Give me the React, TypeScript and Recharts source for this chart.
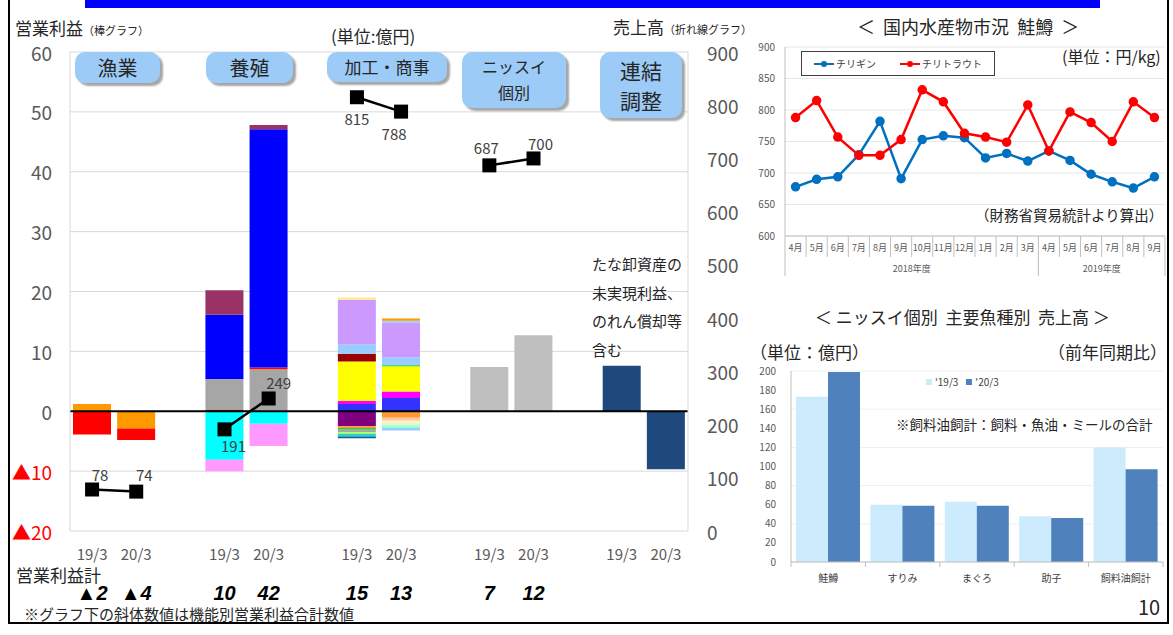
import React from 'react'
import {
  Bar,
  BarChart,
  CartesianGrid,
  Cell,
  ComposedChart,
  Line,
  LineChart,
  ReferenceLine,
  XAxis,
  YAxis,
} from 'recharts'

const FONT = "'Noto Sans CJK JP', 'Noto Sans', sans-serif"
const NARROW = "'Liberation Sans Narrow', 'Liberation Sans', sans-serif"
const AXIS_GREY = '#595959'
const GRID = '#D9D9D9'

// ---- 営業利益 (stacked bars) + 売上高 (line) ----
// 14 slots: two bars per segment, an empty slot between segments
const periods = ['19/3', '20/3', '', '19/3', '20/3', '', '19/3', '20/3', '', '19/3', '20/3', '', '19/3', '20/3']
const totals = ['▲2', '▲4', '', '10', '42', '', '15', '13', '', '7', '12', '', '', '']
const sales = [78, 74, null, 191, 249, null, 815, 788, null, 687, 700, null, null, null]

// pieces of each bar, from the zero line outwards (+ goes up, - goes down)
const segments: number[][] = [
  [1.2, -3.9],
  [-2.9, -1.9],
  [],
  [0.2, 5.2, 10.7, 4.1, -8.1, -1.9],
  [7.0, 0.3, 39.8, 0.7, -2.1, -3.7],
  [],
  [1.2, 0.5, 6.6, 1.3, 1.6, 7.4, 0.4, -2.5, -0.3, -0.3, -0.4, -0.3, -0.4, -0.3],
  [2.2, 1.1, 4.2, 0.2, 1.3, 5.8, 0.3, 0.4, -1.1, -0.5, -0.4, -0.4, -0.4, -0.4],
  [],
  [7.4],
  [12.7],
  [],
  [7.6],
  [-9.7],
]
const segmentColors: string[][] = [
  ['#FF9900', '#FF0000'],
  ['#FF9900', '#FF0000'],
  [],
  ['#C00000', '#A6A6A6', '#0000FF', '#993366', '#00FFFF', '#FF99FF'],
  ['#A6A6A6', '#FF0000', '#0000FF', '#993366', '#00FFFF', '#FF99FF'],
  [],
  ['#3333FF', '#FF00FF', '#FFFF00', '#990000', '#99CCFF', '#CC99FF', '#FFE699', '#800080', '#FF9933', '#33CC33', '#A6A6A6', '#99FF66', '#33CCCC', '#006699'],
  ['#3333FF', '#FF00FF', '#FFFF00', '#00CC00', '#99CCFF', '#CC99FF', '#99CCFF', '#FF9900', '#FF9933', '#FFCC99', '#FFF2CC', '#CCFFCC', '#99FFCC', '#99CCFF'],
  [],
  ['#BFBFBF'],
  ['#BFBFBF'],
  [],
  ['#1F497D'],
  ['#1F497D'],
]
const salesLabelOffsets: ([number, number] | null)[] = [
  [8, -15], [8, -17], null, [9, 16], [10, -16], null, [0, 21], [-7, 22], null, [-3, -18], [7, -15],
]

const segmentNames = ['漁業', '養殖', '加工・商事', 'ニッスイ\n個別', '連結\n調整']

const LAYERS = Math.max(...segments.map((s) => s.length))
const mainData = periods.map((p, i) => {
  const row: Record<string, any> = { slot: `s${i}`, period: p, sales: sales[i] }
  for (let j = 0; j < LAYERS; j++) row[`L${j}`] = segments[i][j] ?? null
  return row
})

// ---- 国内水産物市況 鮭鱒 ----
const months = ['4月', '5月', '6月', '7月', '8月', '9月', '10月', '11月', '12月', '1月', '2月', '3月', '4月', '5月', '6月', '7月', '8月', '9月']
const chirigin = [678, 690, 694, 729, 782, 691, 753, 759, 756, 724, 731, 719, 735, 720, 698, 686, 676, 694]
const chiritrout = [788, 815, 757, 728, 728, 753, 832, 813, 763, 757, 749, 808, 735, 797, 780, 750, 813, 788]
const fiscalYears = [
  { label: '2018年度', start: 0, count: 12 },
  { label: '2019年度', start: 12, count: 6 },
]
const marketSeries = [
  { key: 'chirigin', name: 'チリギン', color: '#0070C0' },
  { key: 'chiritrout', name: 'チリトラウト', color: '#FF0000' },
]
const marketData = months.map((m, i) => ({ month: `${i}`, label: m, chirigin: chirigin[i], chiritrout: chiritrout[i] }))

// ---- 主要魚種別 売上高 ----
const fishKinds = ['鮭鱒', 'すりみ', 'まぐろ', '助子', '飼料油飼計']
const fish19 = [173, 60, 63, 48, 120]
const fish20 = [199, 59, 59, 46, 97]
const fishSeries = [
  { key: 'y19', name: "'19/3", color: '#CCEBFC' },
  { key: 'y20', name: "'20/3", color: '#4F81BD' },
]
const fishData = fishKinds.map((k, i) => ({ kind: k, y19: fish19[i], y20: fish20[i] }))

function LeftTick(props: any) {
  const { x, y, payload } = props
  const v = payload.value as number
  const neg = v < 0
  return (
    <text x={x} y={y} textAnchor="end" dominantBaseline="central" fontSize={19} fill={neg ? '#FF0000' : AXIS_GREY}>
      {neg ? `▲${Math.abs(v)}` : v}
    </text>
  )
}

function RightTick(props: any) {
  const { x, y, payload } = props
  return (
    <text x={x} y={y} textAnchor="start" dominantBaseline="central" fontSize={19} fill={AXIS_GREY}>
      {payload.value}
    </text>
  )
}

function PeriodTick(props: any) {
  const { x, y, index } = props
  return (
    <g>
      <text x={x} y={y} dy={29} textAnchor="middle" fontSize={15} fill={AXIS_GREY}>
        {periods[index]}
      </text>
      <text x={x} y={y} dy={69} textAnchor="middle" fontSize={20} fontStyle="italic" fontWeight="bold" fill="#000" fontFamily={NARROW}>
        {totals[index]}
      </text>
    </g>
  )
}

function SquareDot(props: any) {
  const { cx, cy, index } = props
  if (cx == null || cy == null || sales[index] == null) return <g key={`d${index}`} />
  return <rect key={`d${index}`} x={cx - 7} y={cy - 7} width={14} height={14} fill="#000" />
}

function SalesLabel(props: any) {
  const { x, y, value, index } = props
  if (value == null || x == null) return null
  const [dx, dy] = salesLabelOffsets[index] ?? [0, -16]
  return (
    <text x={x + dx} y={y + dy} textAnchor="middle" dominantBaseline="central" fontSize={15} fill="#404040">
      {value}
    </text>
  )
}

const BAND_M = 380 / 18
function MonthTick(props: any) {
  const { x, y, index } = props
  const year = fiscalYears.find((f) => f.start === index)
  const long = !!year
  return (
    <g>
      <line x1={x - BAND_M / 2} x2={x - BAND_M / 2} y1={y} y2={y + (long ? 40 : 21)} stroke="#BFBFBF" />
      {index === months.length - 1 && (
        <line x1={x + BAND_M / 2} x2={x + BAND_M / 2} y1={y} y2={y + 40} stroke="#BFBFBF" />
      )}
      <text x={x} y={y} dy={15} textAnchor="middle" fontSize={9} fill={AXIS_GREY}>
        {months[index]}
      </text>
      {year && (
        <text x={x + ((year.count - 1) / 2) * BAND_M} y={y} dy={36} textAnchor="middle" fontSize={9} fill={AXIS_GREY}>
          {year.label}
        </text>
      )}
    </g>
  )
}

const BAND_F = 372 / 5
function FishTick(props: any) {
  const { x, y, index } = props
  return (
    <g>
      {index === 0 && <line x1={x - BAND_F / 2} x2={x - BAND_F / 2} y1={y} y2={y + 5} stroke="#BFBFBF" />}
      <line x1={x + BAND_F / 2} x2={x + BAND_F / 2} y1={y} y2={y + 5} stroke="#BFBFBF" />
      <text x={x} y={y} dy={20} textAnchor="middle" fontSize={10} fill="#404040">
        {fishKinds[index]}
      </text>
    </g>
  )
}

function MarketLegend() {
  return (
    <div
      style={{
        position: 'absolute',
        left: 801,
        top: 51,
        width: 194,
        height: 25,
        border: '1px solid #404040',
        boxSizing: 'border-box',
        display: 'flex',
        alignItems: 'center',
        justifyContent: 'center',
        gap: 24,
        background: '#fff',
        fontSize: 10,
        color: '#404040',
      }}
    >
      {marketSeries.map((s) => (
        <span key={s.key} style={{ display: 'flex', alignItems: 'center', gap: 2 }}>
          <svg width={20} height={8}>
            <line x1={0} x2={20} y1={4} y2={4} stroke={s.color} strokeWidth={2} />
            <circle cx={10} cy={4} r={3} fill={s.color} />
          </svg>
          {s.name}
        </span>
      ))}
    </div>
  )
}

function FishLegend() {
  return (
    <div style={{ position: 'absolute', left: 926, top: 374, display: 'flex', gap: 8, fontSize: 10, color: '#404040', alignItems: 'center' }}>
      {fishSeries.map((it) => (
        <span key={it.key} style={{ display: 'flex', alignItems: 'center', gap: 3 }}>
          <span style={{ width: 6, height: 6, background: it.color, display: 'inline-block' }} />
          {it.name}
        </span>
      ))}
    </div>
  )
}

const boxStyle: React.CSSProperties = {
  position: 'absolute',
  background: '#9CCBF7',
  borderRadius: 10,
  boxShadow: '3px 3px 2px #A6A6A6',
  color: '#262626',
  display: 'flex',
  alignItems: 'center',
  justifyContent: 'center',
  textAlign: 'center',
  whiteSpace: 'pre-line',
}
const boxes = [
  { left: 75, top: 52, width: 85, height: 31, fontSize: 20, lineHeight: 1.2 },
  { left: 206, top: 52, width: 87, height: 31, fontSize: 20, lineHeight: 1.2 },
  { left: 327, top: 52, width: 120, height: 30, fontSize: 17, lineHeight: 1.2 },
  { left: 462, top: 52, width: 104, height: 56, fontSize: 16, lineHeight: 1.6 },
  { left: 600, top: 52, width: 82, height: 66, fontSize: 21, lineHeight: 1.45 },
]

const abs = (left: number, top: number, extra: React.CSSProperties = {}): React.CSSProperties => ({
  position: 'absolute',
  left,
  top,
  whiteSpace: 'nowrap',
  lineHeight: 1,
  ...extra,
})

export default function App() {
  return (
    <div style={{ position: 'absolute', left: 0, top: 0, width: 1173, height: 635, background: '#fff', fontFamily: FONT, overflow: 'hidden' }}>
      <div style={{ position: 'absolute', left: 85, top: 0, width: 1015, height: 8, background: '#0000FF' }} />
      <div
        style={{
          position: 'absolute',
          left: 8,
          top: 0,
          width: 1161,
          height: 624,
          boxSizing: 'border-box',
          borderLeft: '2px solid #000',
          borderRight: '2px solid #000',
          borderBottom: '2px solid #000',
        }}
      />

      <div style={{ position: 'absolute', left: 0, top: 0 }}>
        <ComposedChart
          width={760}
          height={635}
          data={mainData}
          stackOffset="sign"
          margin={{ top: 52, right: 10, bottom: 24, left: 0 }}
        >
          <CartesianGrid yAxisId="left" vertical={false} stroke={GRID} />
          <XAxis dataKey="slot" interval={0} height={80} axisLine={false} tickLine={false} tickSize={0} tickMargin={0} tick={PeriodTick} />
          <YAxis
            yAxisId="left"
            domain={[-20, 60]}
            ticks={[-20, -10, 0, 10, 20, 30, 40, 50, 60]}
            width={70}
            axisLine={{ stroke: GRID }}
            tickLine={false}
            tickSize={0}
            tickMargin={18}
            tick={LeftTick}
          />
          <YAxis
            yAxisId="right"
            orientation="right"
            domain={[0, 900]}
            ticks={[0, 100, 200, 300, 400, 500, 600, 700, 800, 900]}
            width={62}
            axisLine={{ stroke: GRID }}
            tickLine={false}
            tickSize={0}
            tickMargin={19}
            tick={RightTick}
          />
          {Array.from({ length: LAYERS }, (_, j) => (
            <Bar key={`L${j}`} yAxisId="left" dataKey={`L${j}`} stackId="op" barSize={38} isAnimationActive={false}>
              {mainData.map((_, i) => (
                <Cell key={i} fill={segmentColors[i][j] ?? 'transparent'} />
              ))}
            </Bar>
          ))}
          <ReferenceLine yAxisId="left" y={0} stroke="#000" strokeWidth={2} />
          <Line
            yAxisId="right"
            dataKey="sales"
            stroke="#000"
            strokeWidth={2.5}
            dot={SquareDot}
            activeDot={false}
            label={SalesLabel}
            isAnimationActive={false}
          />
        </ComposedChart>
      </div>

      {boxes.map((b, i) => (
        <div key={i} style={{ ...boxStyle, left: b.left, top: b.top, width: b.width, height: b.height, fontSize: b.fontSize, lineHeight: b.lineHeight }}>
          {segmentNames[i]}
        </div>
      ))}

      <div style={abs(15, 19, { fontSize: 17, color: '#262626' })}>
        営業利益<span style={{ fontSize: 11 }}>（棒グラフ）</span>
      </div>
      <div style={abs(331, 27, { fontSize: 17, color: '#262626' })}>(単位:億円)</div>
      <div style={abs(613, 18, { fontSize: 17, color: '#262626' })}>
        売上高<span style={{ fontSize: 11 }}>（折れ線グラフ）</span>
      </div>
      <div style={abs(592, 250, { fontSize: 15, color: '#262626', lineHeight: '28.5px', whiteSpace: 'pre' })}>
        {'たな卸資産の\n未実現利益、\nのれん償却等\n含む'}
      </div>
      <div style={abs(16, 566, { fontSize: 17, color: '#262626' })}>営業利益計</div>
      <div style={abs(24, 606, { fontSize: 15, color: '#262626' })}>※グラフ下の斜体数値は機能別営業利益合計数値</div>

      {/* 国内水産物市況 */}
      <div style={abs(857, 17, { fontSize: 18, color: '#262626', whiteSpace: 'pre' })}>{'＜  国内水産物市況  鮭鱒  ＞'}</div>
      <div style={{ position: 'absolute', left: 700, top: 0 }}>
        <LineChart width={473} height={290} data={marketData} margin={{ top: 47, right: 8, bottom: 14, left: 0 }}>
          <CartesianGrid vertical={false} stroke="#E7E7E7" />
          <XAxis
            dataKey="month"
            scale="band"
            interval={0}
            height={40}
            axisLine={{ stroke: '#BFBFBF' }}
            tickLine={false}
            tickSize={0}
            tickMargin={0}
            tick={MonthTick}
          />
          <YAxis
            domain={[600, 900]}
            ticks={[600, 650, 700, 750, 800, 850, 900]}
            width={85}
            axisLine={{ stroke: '#BFBFBF' }}
            tickLine={false}
            tickSize={0}
            tickMargin={10}
            tick={{ fontSize: 10, fill: AXIS_GREY }}
          />
          {marketSeries.map((s) => (
            <Line
              key={s.key}
              dataKey={s.key}
              name={s.name}
              stroke={s.color}
              strokeWidth={2.5}
              dot={{ r: 3.5, fill: s.color, stroke: s.color }}
              activeDot={false}
              isAnimationActive={false}
            />
          ))}
        </LineChart>
      </div>
      <MarketLegend />
      <div style={abs(1062, 48, { fontSize: 16, color: '#262626' })}>(単位：円/kg)</div>
      <div style={abs(975, 208, { fontSize: 14.5, color: '#262626' })}>（財務省貿易統計より算出）</div>

      {/* 主要魚種別 売上高 */}
      <div style={abs(815, 308, { fontSize: 17, color: '#262626', whiteSpace: 'pre' })}>{'＜ ニッスイ個別  主要魚種別  売上高 ＞'}</div>
      <div style={abs(750, 343, { fontSize: 17, color: '#262626' })}>（単位：億円）</div>
      <div style={abs(1048, 343, { fontSize: 17, color: '#262626' })}>（前年同期比）</div>
      <div style={{ position: 'absolute', left: 700, top: 330 }}>
        <BarChart width={473} height={270} data={fishData} margin={{ top: 41, right: 10, bottom: 8, left: 0 }} barGap={0} barCategoryGap={5}>
          <CartesianGrid vertical={false} stroke="#EFEFEF" />
          <XAxis dataKey="kind" interval={0} height={30} axisLine={{ stroke: '#BFBFBF' }} tickLine={false} tickSize={0} tickMargin={0} tick={FishTick} />
          <YAxis
            domain={[0, 200]}
            ticks={[0, 20, 40, 60, 80, 100, 120, 140, 160, 180, 200]}
            width={91}
            axisLine={{ stroke: '#BFBFBF' }}
            tickLine={false}
            tickSize={0}
            tickMargin={15}
            tick={{ fontSize: 10, fill: AXIS_GREY }}
          />
          {fishSeries.map((s) => (
            <Bar key={s.key} dataKey={s.key} name={s.name} fill={s.color} isAnimationActive={false} />
          ))}
        </BarChart>
      </div>
      <FishLegend />
      <div style={abs(896, 418, { fontSize: 13.5, color: '#262626' })}>※飼料油飼計：飼料・魚油・ミールの合計</div>
      <div style={abs(1138, 597, { fontSize: 20, color: '#262626' })}>10</div>
    </div>
  )
}
